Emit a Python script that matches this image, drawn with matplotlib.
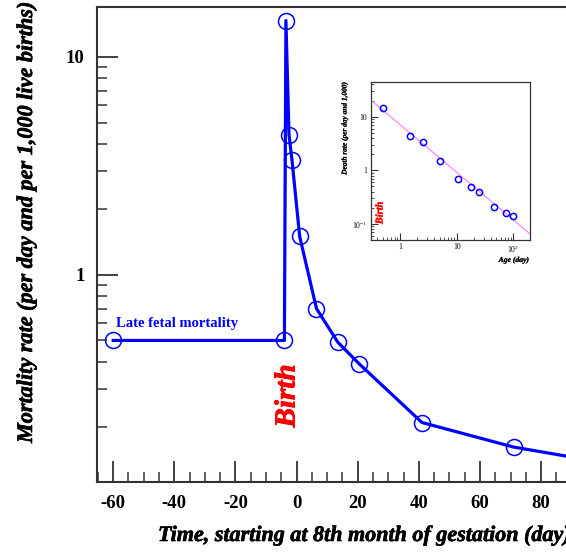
import numpy as np
import matplotlib
matplotlib.use("Agg")
import matplotlib.pyplot as plt
from matplotlib import font_manager as fm
from matplotlib import patheffects as pe
from matplotlib.font_manager import FontProperties
from matplotlib.ticker import LogLocator, MultipleLocator, FixedLocator, NullFormatter, FixedFormatter

# ---- data ----
fetal_days = [-60, -4]
fetal_rate = [0.5, 0.5]
birth_time = -4
age_days = [0.5, 1.5, 2.5, 5, 10.5, 17.5, 24.5, 45, 75, 100]
death_rate = [14.7, 4.4, 3.35, 1.5, 0.70, 0.49, 0.39, 0.21, 0.162, 0.141]
fit_amp = 7.1
fit_slope = -0.888
x_ticks = [-60, -40, -20, 0, 20, 40, 60, 80]
y_ticks = [1, 10]
y_ticklabels = ["1", "10"]
inset_xticks = [1, 10, 100]
inset_xticklabels = ["1", "10", r"10$^{2}$"]
inset_yticks = [0.1, 1, 10]
inset_yticklabels = [r"10$^{-1}$", "1", "10"]

SERIF = "Liberation Serif"
plt.rcParams["font.family"] = [SERIF, "DejaVu Serif"]
plt.rcParams["axes.unicode_minus"] = False
plt.rcParams["mathtext.fontset"] = "custom"
plt.rcParams["mathtext.rm"] = SERIF
plt.rcParams["mathtext.bf"] = SERIF + ":bold"


def _wt(w):
    if isinstance(w, str):
        return 700 if "bold" in w.lower() else 400
    return w


bi_files = [f.fname for f in fm.fontManager.ttflist
            if f.name == SERIF and f.style == "italic" and _wt(f.weight) >= 600]


def bold_italic(size, color="black", stroke=0.45):
    if bi_files:
        fp = FontProperties(fname=bi_files[0], size=size)
    else:
        fp = FontProperties(family=SERIF, style="italic", size=size)
        stroke += 0.4
    d = dict(fontproperties=fp)
    if stroke > 0:
        d["path_effects"] = [pe.withStroke(linewidth=stroke, foreground=color)]
    return d


W, H = 566, 552
fig = plt.figure(figsize=(W / 100, H / 100), dpi=100)

# main axes (extends past right edge of figure, like the reference crop)
xlim = (-65.3, 100)
px_per_day = 3.057
ax_left, ax_right = 97, 97 + (xlim[1] - xlim[0]) * px_per_day
ax_top, ax_bot = 7, 482
ax = fig.add_axes([ax_left / W, 1 - ax_bot / H, (ax_right - ax_left) / W, (ax_bot - ax_top) / H])
ax.set_yscale("log")
ax.set_xlim(*xlim)
ax.set_ylim(0.112, 16.96)

times = list(fetal_days) + [birth_time + a for a in age_days]
rates = list(fetal_rate) + list(death_rate)
ax.plot(times, rates, color="#0000ff", lw=2.3, zorder=2)
ax.plot(times, rates, ls="none", marker="o", ms=11.5, mfc="none", mec="#0000ff", mew=1.1, zorder=3)

ax.spines["right"].set_visible(False)
for s in ["left", "bottom", "top"]:
    ax.spines[s].set_linewidth(1.5)
    ax.spines[s].set_color("#333333")

ax.xaxis.set_major_locator(FixedLocator(x_ticks))
ax.xaxis.set_minor_locator(MultipleLocator(5))
ax.yaxis.set_major_locator(FixedLocator(y_ticks))
ax.yaxis.set_major_formatter(FixedFormatter(y_ticklabels))
ax.yaxis.set_minor_locator(LogLocator(base=10, subs=np.arange(2, 10)))
ax.yaxis.set_minor_formatter(NullFormatter())
ax.tick_params(which="both", direction="in", top=False, right=False, color="#333333")
ax.tick_params(which="major", length=15, width=1.3, labelsize=13.5, pad=9)
ax.tick_params(which="minor", length=7.5, width=1.1)
for lab in ax.get_xticklabels() + ax.get_yticklabels():
    lab.set_fontweight("bold")

ax.text(-59, 0.5 * 1.12, "Late fetal mortality", color="#0000ff", fontsize=10.5,
        fontweight="bold", ha="left", va="bottom")

fig.text(287 / W, 1 - 396 / H, "Birth", color="red", rotation=90, ha="center", va="center",
         **bold_italic(21, "red", 0.6))

fig.text(158 / W, 1 - 536 / H, "Time, starting at 8th month of gestation (day)",
         ha="left", va="center", **bold_italic(15.9))
fig.text(27 / W, 1 - 443 / H, "Mortality rate (per day and per 1,000 live births)",
         rotation=90, ha="center", va="bottom", **bold_italic(16))

# inset
il, ir, it, ib = 370.7, 530, 81.7, 240
ins = fig.add_axes([il / W, 1 - ib / H, (ir - il) / W, (ib - it) / H])
ins.set_xscale("log")
ins.set_yscale("log")
ins.set_xlim(0.304, 196)
ins.set_ylim(0.0503, 44.9)
xx = np.array(ins.get_xlim())
ins.plot(xx, fit_amp * xx ** fit_slope, color="#ff88ff", lw=0.9, zorder=2)
ins.plot(age_days, death_rate, ls="none", marker="o", ms=4.5, mfc="none", mec="#0000ff", mew=1.1, zorder=3)
ins.xaxis.set_major_locator(FixedLocator(inset_xticks))
ins.xaxis.set_major_formatter(FixedFormatter(inset_xticklabels))
ins.yaxis.set_major_locator(FixedLocator(inset_yticks))
ins.yaxis.set_major_formatter(FixedFormatter(inset_yticklabels))
ins.xaxis.set_minor_locator(LogLocator(base=10, subs=np.arange(2, 10)))
ins.yaxis.set_minor_locator(LogLocator(base=10, subs=np.arange(2, 10)))
ins.xaxis.set_minor_formatter(NullFormatter())
ins.yaxis.set_minor_formatter(NullFormatter())
ins.tick_params(which="both", direction="in", top=False, right=False, color="#333333")
ins.tick_params(which="major", length=5, width=0.8, labelsize=5.5, pad=2.5)
ins.tick_params(which="minor", length=2.5, width=0.6)
for s in ins.spines.values():
    s.set_linewidth(0.9)
    s.set_color("#333333")
fig.text(380 / W, 1 - 213 / H, "Birth", color="red", rotation=90, ha="center", va="center",
         **bold_italic(7.5, "red", 0.2))
fig.text(529 / W, 1 - 260 / H, "Age (day)", ha="right", va="center", **bold_italic(5.5, stroke=0.1))
fig.text(345 / W, 1 - 81 / H, "Death rate (per day and 1,000)", rotation=90,
         ha="center", va="top", **bold_italic(5.3, stroke=0.1))

fig.savefig("out.png", dpi=100)
